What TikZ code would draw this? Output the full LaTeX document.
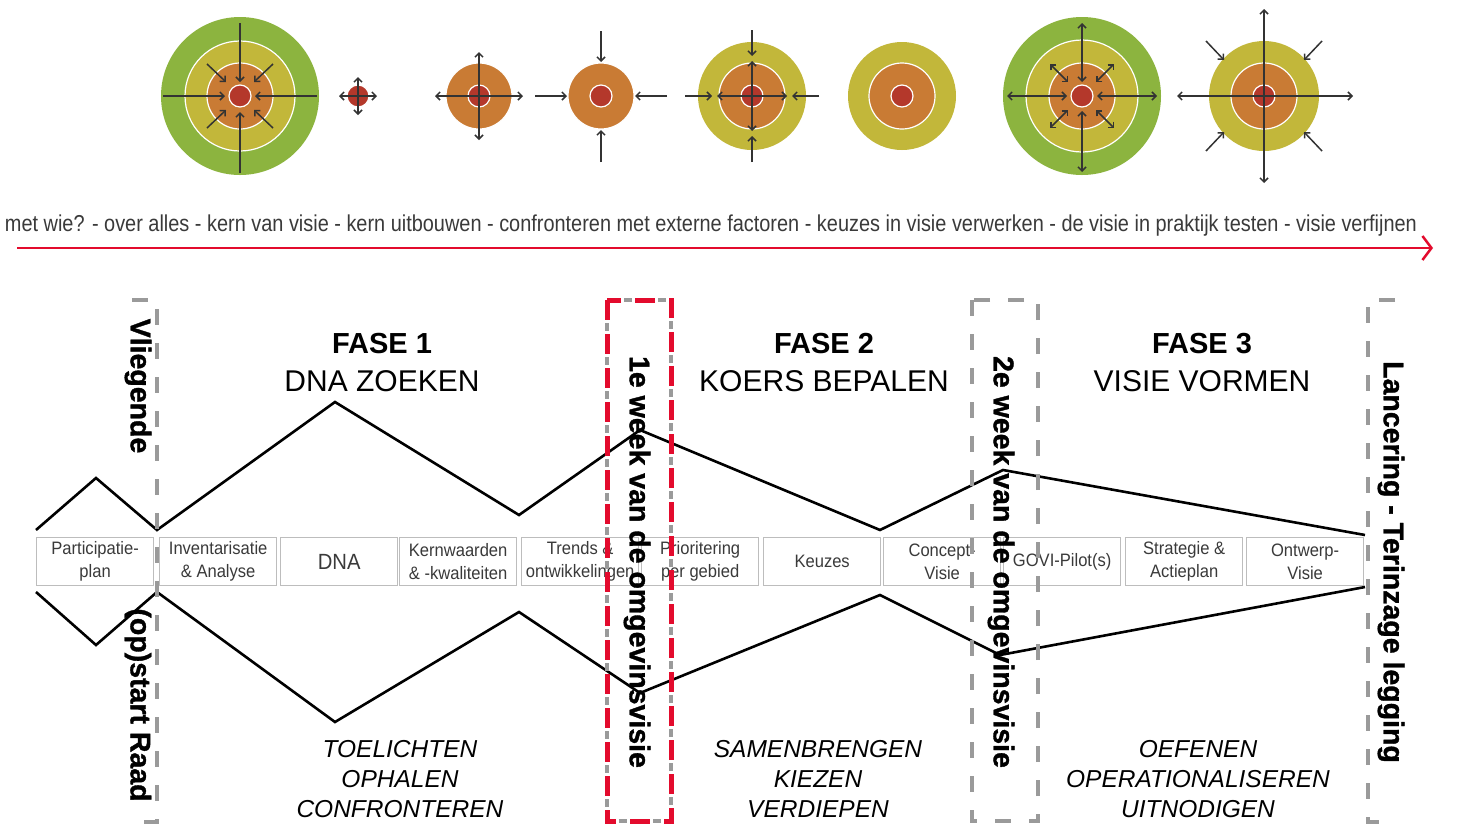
\documentclass[tikz,border=0pt]{standalone}
\usepackage{fontspec}
\setmainfont{Liberation Sans}
\newfontfamily\heavyfont[FakeBold=1.2]{Liberation Sans Bold}
\usepackage{graphicx}
\usetikzlibrary{arrows.meta,calc}
\definecolor{cgreen}{HTML}{8CB43F}
\definecolor{cyellow}{HTML}{C2B73A}
\definecolor{corange}{HTML}{C97B34}
\definecolor{cred}{HTML}{B4382B}
\definecolor{hired}{HTML}{E30B2D}
\definecolor{dashgray}{HTML}{9A9A9A}
\definecolor{boxgray}{HTML}{BDBDBD}
\definecolor{arrgray}{HTML}{333333}
\definecolor{boxtext}{HTML}{3A3A3A}
\newcommand{\nar}[1]{\scalebox{0.92}[1]{#1}}
\begin{document}
\begin{tikzpicture}[x=1pt,y=-1pt,
  ring/.style={draw=white,line width=1.2pt},
  tipb/.tip={Straight Barb[length=4pt,width=8pt]},
  arr/.style={draw=arrgray,line width=1.5pt,-tipb},
  darr/.style={draw=arrgray,line width=1.5pt,tipb-tipb},
  zig/.style={line width=2.6pt,line join=miter},
  gdash/.style={dashgray,line width=4pt,dash pattern=on 16pt off 18pt},
  rdash/.style={hired,line width=5pt,dash pattern=on 20pt off 14pt},
  gdashb/.style={dashgray,line width=4pt,dash pattern=on 8pt off 26pt,dash phase=-23pt},
  stepbox/.style={draw=boxgray,line width=1.3pt,fill=white,text=boxtext,minimum width=117pt,minimum height=48pt,anchor=north west,inner sep=0pt,align=center,font=\fontsize{18}{23}\selectfont},
  vlabel/.style={rotate=-90,font=\heavyfont\fontsize{28.5}{30}\selectfont},
  fase/.style={anchor=base,font=\bfseries\fontsize{29}{30}\selectfont},
  fasesub/.style={anchor=base,font=\fontsize{30}{31}\selectfont},
  act/.style={anchor=base,font=\itshape\fontsize{24.5}{26}\selectfont}
]
\useasboundingbox[fill=white] (0,0) rectangle (1457,823);

% ---------- top target circles ----------
% 1
\fill[cgreen] (240,96) circle (79);
\filldraw[ring,fill=cyellow] (240,96) circle (55);
\filldraw[ring,fill=corange] (240,96) circle (33);
\filldraw[ring,fill=cred] (240,96) circle (11);
\draw[arr] (163,96) -- (225,96);
\draw[arr] (317,96) -- (255,96);
\draw[arr] (240,23) -- (240,82);
\draw[arr] (240,173) -- (240,112);
\foreach \sx/\sy in {1/1,1/-1,-1/1,-1/-1}
  \draw[arr] ($(240,96)+(\sx*33,\sy*32)$) -- ($(240,96)+(\sx*14,\sy*14)$);
% 2
\filldraw[ring,fill=cred] (358,96) circle (11);
\draw[darr] (339,96) -- (377,96);
\draw[darr] (358,77) -- (358,115);
% 3
\filldraw[ring,fill=corange] (479,96) circle (33);
\filldraw[ring,fill=cred] (479,96) circle (11);
\draw[darr] (435,96) -- (523,96);
\draw[darr] (479,52) -- (479,140);
% 4
\filldraw[ring,fill=corange] (601,96) circle (33);
\filldraw[ring,fill=cred] (601,96) circle (11);
\draw[arr] (535,96) -- (567,96);
\draw[arr] (667,96) -- (635,96);
\draw[arr] (601,31) -- (601,62);
\draw[arr] (601,162) -- (601,130);
% 5
\filldraw[ring,draw=none,fill=cyellow] (752,96) circle (54);
\filldraw[ring,fill=corange] (752,96) circle (33);
\filldraw[ring,fill=cred] (752,96) circle (11);
\foreach \dx/\dy in {1/0,-1/0,0/1,0/-1}{
  \draw[arr] ($(752,96)+(\dx*67,\dy*66)$) -- ($(752,96)+(\dx*40,\dy*40)$);
  \draw[arr] (752,96) -- ($(752,96)+(\dx*35,\dy*35)$);
}
% 6
\filldraw[ring,draw=none,fill=cyellow] (902,96) circle (54);
\filldraw[ring,fill=corange] (902,96) circle (33);
\filldraw[ring,fill=cred] (902,96) circle (11);
% 7
\fill[cgreen] (1082,96) circle (79);
\filldraw[ring,fill=cyellow] (1082,96) circle (56);
\filldraw[ring,fill=corange] (1082,96) circle (33);
\filldraw[ring,fill=cred] (1082,96) circle (11);
\draw[darr] (1007,96) -- (1067,96);
\draw[darr] (1157,96) -- (1097,96);
\draw[darr] (1082,23) -- (1082,82);
\draw[darr] (1082,172) -- (1082,111);
\foreach \sx/\sy in {1/1,1/-1,-1/1,-1/-1}
  \draw[darr] ($(1082,96)+(\sx*32,\sy*32)$) -- ($(1082,96)+(\sx*14,\sy*14)$);
% 8
\filldraw[ring,draw=none,fill=cyellow] (1264,96) circle (55);
\filldraw[ring,fill=corange] (1264,96) circle (33);
\filldraw[ring,fill=cred] (1264,96) circle (11);
\draw[darr] (1177,96) -- (1353,96);
\draw[darr] (1264,9) -- (1264,183);
\foreach \sx/\sy in {1/1,1/-1,-1/1,-1/-1}
  \draw[arr] ($(1264,96)+(\sx*58,\sy*55)$) -- ($(1264,96)+(\sx*40,\sy*36)$);

% ---------- timeline text + red arrow ----------
\node[anchor=base,inner sep=0pt,text=boxtext] (toptext) at (711,231) {\resizebox{1412pt}{\height}{\fontsize{23}{23}\selectfont met wie? - over alles - kern van visie - kern uitbouwen - confronteren met externe factoren - keuzes in visie verwerken - de visie in praktijk testen - visie verfijnen}};
\coordinate (rs) at (17,248);
\coordinate (re) at (1433,248);
\draw[hired,line width=2.5pt,-{Straight Barb[length=9pt,width=24pt,line width=2.5pt]}] (rs) -- (re);

% ---------- step boxes ----------
\node[stepbox] (b1) at (36,537) {\nar{Participatie-}\\\nar{plan}};
\node[stepbox] (b2) at (159,537) {\nar{Inventarisatie}\\\nar{\& Analyse}};
\node[stepbox,font=\fontsize{22}{24}\selectfont] (b3) at (280,537) {\nar{DNA}};
\node[stepbox] (b4) at (399,537) {\nar{Kernwaarden}\\\nar{\& -kwaliteiten}};
\node[stepbox] (b5) at (521,537) {\nar{Trends \&}\\\nar{ontwikkelingen}};
\node[stepbox] (b6) at (641,537) {\nar{Prioritering}\\\nar{per gebied}};
\node[stepbox] (b7) at (763,537) {\nar{Keuzes}};
\node[stepbox] (b8) at (883,537) {\nar{Concept-}\\\nar{Visie}};
\node[stepbox] (b9) at (1003,537) {\nar{GOVI-Pilot(s)}};
\node[stepbox] (b10) at (1125,537) {\nar{Strategie \&}\\\nar{Actieplan}};
\node[stepbox] (b11) at (1246,537) {\nar{Ontwerp-}\\\nar{Visie}};

% ---------- zigzag lines ----------
\draw[zig] (36,530) -- (96,478) -- (157,530) -- (335,402) -- (519,515) -- (640,430) -- (880,530) -- (1003,470) -- (1365,535);
\draw[zig] (36,592) -- (96,645) -- (157,592) -- (335,722) -- (519,612) -- (640,693) -- (880,595) -- (1000,655) -- (1365,587);

% ---------- dashed markers ----------
\draw[gdash] (132,300) -- (157,300) -- (157,822) -- (132,822);
\draw[gdashb] (607,300) rectangle (671,821);
\draw[rdash] (607,300) rectangle (671,821);
\draw[gdash] (972,300) rectangle (1038,821);
\draw[gdash] (1395,300) -- (1368,300) -- (1368,822) -- (1395,822);

% ---------- phase titles ----------
\node[fase] (f1) at (382,353) {FASE 1};
\node[fasesub] (f1s) at (382,391) {DNA ZOEKEN};
\node[fase] (f2) at (824,353) {FASE 2};
\node[fasesub] (f2s) at (824,391) {KOERS BEPALEN};
\node[fase] (f3) at (1202,353) {FASE 3};
\node[fasesub] (f3s) at (1202,391) {VISIE VORMEN};

\node[act] (a11) at (400,757) {TOELICHTEN};
\node[act] (a12) at (400,787) {OPHALEN};
\node[act] (a13) at (400,817) {CONFRONTEREN};
\node[act] (a21) at (818,757) {SAMENBRENGEN};
\node[act] (a22) at (818,787) {KIEZEN};
\node[act] (a23) at (818,817) {VERDIEPEN};
\node[act] (a31) at (1198,757) {OEFENEN};
\node[act] (a32) at (1198,787) {OPERATIONALISEREN};
\node[act] (a33) at (1198,817) {UITNODIGEN};

% ---------- vertical labels ----------
\node[vlabel] (v1) at (138,386) {Vliegende};
\node[vlabel] (v2) at (138,705) {(op)start Raad};
\node[vlabel] (v3) at (637,562) {1e week van de omgevinsvisie};
\node[vlabel] (v4) at (1001,562) {2e week van de omgevinsvisie};
\node[vlabel] (v5) at (1391,562) {Lancering - Terinzage legging};
\end{tikzpicture}
\end{document}
